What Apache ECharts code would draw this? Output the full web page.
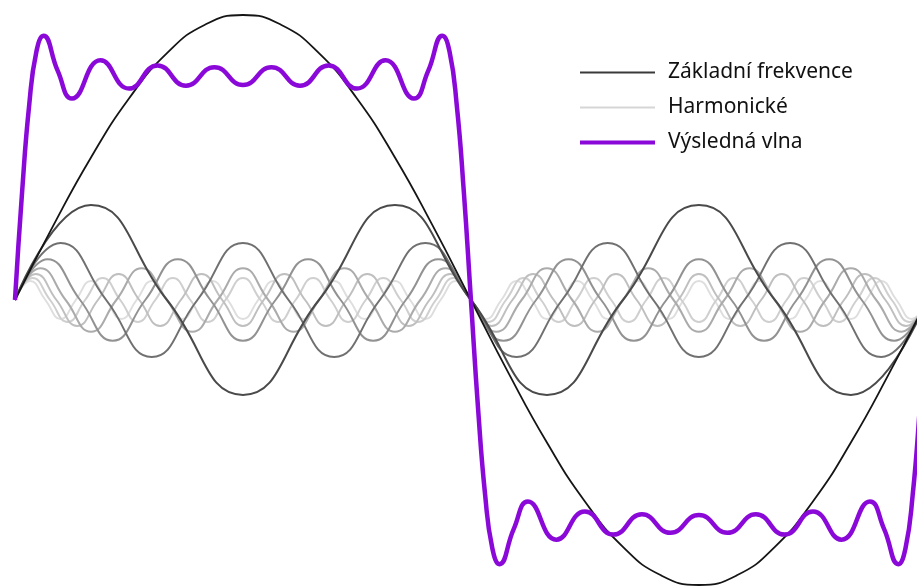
<!DOCTYPE html>
<html>
<head>
<meta charset="utf-8">
<script src="https://cdn.jsdelivr.net/npm/echarts@6/dist/echarts.min.js"></script>
<style>html,body{margin:0;padding:0;background:#fff}#c{width:917px;height:587px}</style>
</head>
<body>
<div id="c"></div>
<script>
// Legend labels
const seriesNames = ['Základní frekvence', 'Harmonické', 'Výsledná vlna'];

// Fundamental wave, sampled every 15 degrees
const fundamentalStep = 15;
const fundamentalValues = [0, 0.259, 0.5, 0.707, 0.866, 0.966, 1, 0.966, 0.866, 0.707, 0.5, 0.259, 0,
  -0.259, -0.5, -0.707, -0.866, -0.966, -1, -0.966, -0.866, -0.707, -0.5, -0.259, 0];

// Harmonics (3rd .. 15th), sampled at quarter periods
const harmonicOrders = [3, 5, 7, 9, 11, 13, 15];
const harmonic3 = [0,.333,0,-.333, 0,.333,0,-.333, 0,.333,0,-.333, 0];
const harmonic5 = [0,.2,0,-.2, 0,.2,0,-.2, 0,.2,0,-.2, 0,.2,0,-.2, 0,.2,0,-.2, 0];
const harmonic7 = [0,.143,0,-.143, 0,.143,0,-.143, 0,.143,0,-.143, 0,.143,0,-.143, 0,.143,0,-.143, 0,.143,0,-.143, 0,.143,0,-.143, 0];
const harmonic9 = [0,.111,0,-.111, 0,.111,0,-.111, 0,.111,0,-.111, 0,.111,0,-.111, 0,.111,0,-.111, 0,.111,0,-.111, 0,.111,0,-.111, 0,.111,0,-.111, 0,.111,0,-.111, 0];
const harmonic11 = [0,.091,0,-.091, 0,.091,0,-.091, 0,.091,0,-.091, 0,.091,0,-.091, 0,.091,0,-.091, 0,.091,0,-.091, 0,.091,0,-.091, 0,.091,0,-.091, 0,.091,0,-.091, 0,.091,0,-.091, 0,.091,0,-.091, 0];
const harmonic13 = [0,.077,0,-.077, 0,.077,0,-.077, 0,.077,0,-.077, 0,.077,0,-.077, 0,.077,0,-.077, 0,.077,0,-.077, 0,.077,0,-.077, 0,.077,0,-.077, 0,.077,0,-.077, 0,.077,0,-.077, 0,.077,0,-.077, 0,.077,0,-.077, 0,.077,0,-.077, 0];
const harmonic15 = [0,.067,0,-.067, 0,.067,0,-.067, 0,.067,0,-.067, 0,.067,0,-.067, 0,.067,0,-.067, 0,.067,0,-.067, 0,.067,0,-.067, 0,.067,0,-.067, 0,.067,0,-.067, 0,.067,0,-.067, 0,.067,0,-.067, 0,.067,0,-.067, 0,.067,0,-.067, 0,.067,0,-.067, 0,.067,0,-.067, 0];
const harmonicValues = [harmonic3, harmonic5, harmonic7, harmonic9, harmonic11, harmonic13, harmonic15];
const harmonicColors = ['#4a4a4a', '#707070', '#929292', '#ababab', '#bfbfbf', '#cfcfcf', '#dedede'];

// Resulting wave (degrees, value)
const resultX = [0, 2.8125, 5.625, 8.4375, 11.25, 16.875, 22.5, 33.75, 45, 56.25, 67.5, 78.75, 90,
  101.25, 112.5, 123.75, 135, 146.25, 157.5, 163.125, 168.75, 171.5625, 174.375, 177.1875, 180,
  182.8125, 185.625, 188.4375, 191.25, 196.875, 202.5, 213.75, 225, 236.25, 247.5, 258.75, 270,
  281.25, 292.5, 303.75, 315, 326.25, 337.5, 343.125, 348.75, 351.5625, 354.375, 357.1875, 360];
const resultY = [0, 0.380, 0.686, 0.871, 0.927, 0.804, 0.707, 0.841, 0.742, 0.823, 0.752, 0.817, 0.754,
  0.817, 0.752, 0.823, 0.742, 0.841, 0.707, 0.804, 0.927, 0.871, 0.686, 0.380, 0,
  -0.380, -0.686, -0.871, -0.927, -0.804, -0.707, -0.841, -0.742, -0.823, -0.752, -0.817, -0.754,
  -0.817, -0.752, -0.823, -0.742, -0.841, -0.707, -0.804, -0.927, -0.871, -0.686, -0.380, 0];

const chart = echarts.init(document.getElementById('c'), null, {renderer: 'canvas'});

const series = [];
for (let i = harmonicOrders.length - 1; i >= 0; i--) {
  const k = harmonicOrders[i];
  const step = 90 / k;
  series.push({
    name: seriesNames[1], type: 'line', smooth: 0.5, symbol: 'none', clip: false,
    lineStyle: {color: harmonicColors[i], width: 2},
    itemStyle: {color: harmonicColors[i]},
    z: 2,
    data: harmonicValues[i].map((v, j) => [j * step, v])
  });
}
series.push({
  name: seriesNames[0], type: 'line', smooth: 0.5, symbol: 'none', clip: false,
  lineStyle: {color: '#151515', width: 1.8}, itemStyle: {color: '#151515'}, z: 3,
  data: fundamentalValues.map((v, j) => [j * fundamentalStep, v])
});
series.push({
  name: seriesNames[2], type: 'line', smooth: 0.5, symbol: 'none', clip: false,
  lineStyle: {color: '#8a08d8', width: 4.5}, itemStyle: {color: '#8a08d8'}, z: 4,
  data: resultX.map((x, j) => [x, resultY[j]])
});

chart.setOption({
  animation: false,
  backgroundColor: '#ffffff',
  grid: {left: 15, right: 0, top: 15, bottom: 2},
  xAxis: {type: 'value', min: 0, max: 356.1, show: false},
  yAxis: {type: 'value', min: -1, max: 1, show: false},
  legend: {
    orient: 'vertical', left: 578, top: 62,
    itemWidth: 75, itemHeight: 20, itemGap: 14, padding: 0,
    itemStyle: {opacity: 0},
    textStyle: {fontFamily: 'Noto Sans', fontSize: 21, color: '#111111', padding: [0, 0, 0, 8], lineHeight: 20},
    data: [
      {name: seriesNames[0], lineStyle: {color: '#3a3a3a', width: 2}, itemStyle: {opacity: 0}},
      {name: seriesNames[1], lineStyle: {color: '#d6d6d6', width: 2}, itemStyle: {opacity: 0}},
      {name: seriesNames[2], lineStyle: {color: '#8a08d8', width: 4}, itemStyle: {opacity: 0}}
    ]
  },
  series: series
});
</script>
</body>
</html>
